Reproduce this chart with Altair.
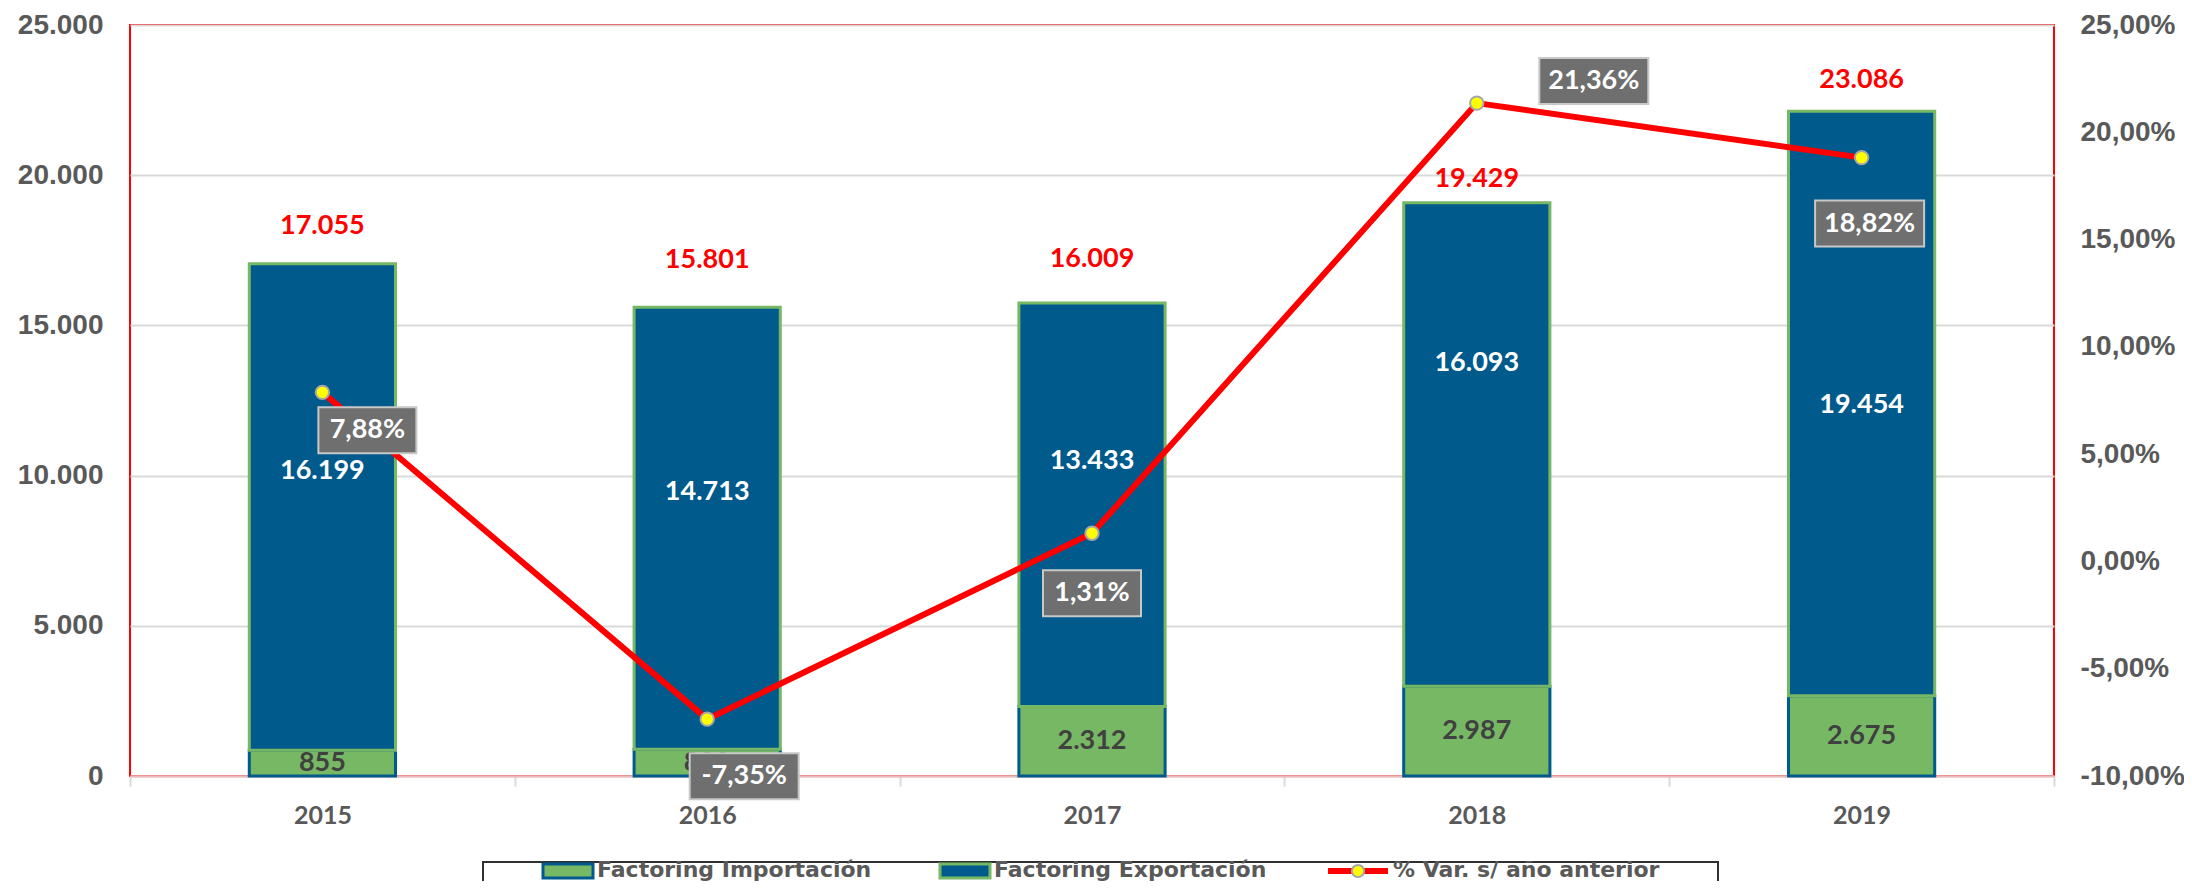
import altair as alt
import pandas as pd

# ---------------- data ----------------
years = ["2015", "2016", "2017", "2018", "2019"]
importacion = [855, 888, 2312, 2987, 2675]
exportacion = [16199, 14713, 13433, 16093, 19454]
totales = [17055, 15801, 16009, 19429, 23086]
variacion = [7.88, -7.35, 1.31, 21.36, 18.82]

legend_labels = ["Factoring Importación", "Factoring Exportación", "% Var. s/ año anterior"]

left_ticks = [0, 5000, 10000, 15000, 20000, 25000]
right_ticks = [-10, -5, 0, 5, 10, 15, 20, 25]

# ---------------- style ----------------
BLUE = "#005A8C"
GREEN = "#77B865"
RED = "#FF0000"
AXIS_TXT = "#595959"
W, H = 1924, 751

exp_label_dy = [-36, -36, -44, -82, 2]
tot_label_dy = [-38, -47, -44, -24, -31]
box_dx = [45, 37, 0, 117, 8]
box_dy = [38, 57, 60, -22, 66]
BOX_H = 46

LABEL_FONT = "Lato"


def miles(v):
    return f"{v:,}".replace(",", ".")


def pct(v):
    return f"{v:.2f}".replace(".", ",") + "%"


def box_path(dx, dy, w, h):
    return f"M{dx - w / 2:.1f},{dy - h / 2:.1f}h{w:.1f}v{h:.1f}h{-w:.1f}Z"


df = pd.DataFrame({
    "year": years,
    "imp": importacion,
    "exp": exportacion,
    "tot": totales,
    "var": variacion,
})
df["imp_top"] = df["imp"]
df["exp_top"] = df["imp"] + df["exp"]
df["imp_mid"] = df["imp"] / 2
df["exp_mid"] = df["imp"] + df["exp"] / 2
df["imp_txt"] = [miles(v) for v in importacion]
df["exp_txt"] = [miles(v) for v in exportacion]
df["tot_txt"] = [miles(v) for v in totales]
df["var_txt"] = [pct(v) for v in variacion]
df["exp_dy"] = exp_label_dy
df["tot_dy"] = tot_label_dy
df["box_dx"] = box_dx
df["box_dy"] = box_dy
df["box_path"] = [
    box_path(dx, dy, 11 * len(t) + 43, BOX_H)
    for dx, dy, t in zip(box_dx, box_dy, df["var_txt"])
]

X = alt.X(
    "year:N",
    sort=years,
    scale=alt.Scale(paddingInner=0, paddingOuter=0),
    axis=alt.Axis(
        title=None, labelAngle=0, tickBand="extent", ticks=True, tickSize=10,
        tickColor="#D9D9D9", tickWidth=2, domainColor="#EDB9B9", domainWidth=2,
        labelFont=LABEL_FONT, labelFontSize=25, labelFontWeight="bold",
        labelColor=AXIS_TXT, labelPadding=17, grid=False,
    ),
)

yL_scale = alt.Scale(domain=[0, 25000], nice=False, zero=True)
yR_scale = alt.Scale(domain=[-10, 25], nice=False, zero=False)

left_axis = alt.Axis(
    title=None, values=left_ticks, grid=True, gridColor="#D9D9D9", gridWidth=2,
    ticks=False, tickSize=0, domain=False, labelPadding=27,
    labelExpr="replace(format(datum.value, ','), ',', '.')",
    labelFont="Liberation Sans", labelFontSize=28, labelFontWeight="bold",
    labelColor=AXIS_TXT,
)
right_axis = alt.Axis(
    title=None, orient="right", values=right_ticks, grid=False, ticks=False,
    tickSize=0, domain=False, labelPadding=26,
    labelExpr="(datum.value < 0 ? '-' : '') + replace(format(abs(datum.value), '.2f'), '.', ',') + '%'",
    labelFont="Liberation Sans", labelFontSize=28, labelFontWeight="bold",
    labelColor=AXIS_TXT,
)

base = alt.Chart(df)

imp_bar = base.mark_bar(width={"band": 0.38}, fill=GREEN, stroke=BLUE, strokeWidth=3).encode(
    x=X, y=alt.Y("imp_top:Q", scale=yL_scale, axis=left_axis)
)
exp_bar = base.mark_bar(width={"band": 0.38}, fill=BLUE, stroke=GREEN, strokeWidth=3).encode(
    x=X, y=alt.Y("imp_top:Q", scale=yL_scale), y2="exp_top:Q"
)
imp_txt = base.mark_text(font=LABEL_FONT, fontSize=27, fontWeight="bold", color="#404040",
                         baseline="middle").encode(
    x=X, y=alt.Y("imp_mid:Q", scale=yL_scale), text="imp_txt:N"
)
exp_txt = base.mark_text(font=LABEL_FONT, fontSize=27, fontWeight="bold", color="#FFFFFF",
                         baseline="middle", dy=alt.expr("datum.exp_dy")).encode(
    x=X, y=alt.Y("exp_mid:Q", scale=yL_scale), text="exp_txt:N"
)
tot_txt = base.mark_text(font=LABEL_FONT, fontSize=27, fontWeight="bold", color=RED,
                         baseline="middle", dy=alt.expr("datum.tot_dy")).encode(
    x=X, y=alt.Y("exp_top:Q", scale=yL_scale), text="tot_txt:N"
)
left = alt.layer(imp_bar, exp_bar, imp_txt, exp_txt, tot_txt)

line = base.mark_line(color=RED, strokeWidth=6).encode(
    x=X, y=alt.Y("var:Q", scale=yR_scale, axis=right_axis)
)
pts = base.mark_circle(size=180, color="#FFFF00", stroke="#A6A6A6", strokeWidth=2, opacity=1).encode(
    x=X, y=alt.Y("var:Q", scale=yR_scale)
)
boxes = base.mark_point(size=4, filled=True, fill="#6F6F6F",
                        stroke="#C8C8C8", strokeWidth=2, opacity=1).encode(
    x=X, y=alt.Y("var:Q", scale=yR_scale),
    shape=alt.Shape("box_path:N", scale=None, legend=None),
)
box_txt = base.mark_text(font=LABEL_FONT, fontSize=27, fontWeight="bold", color="#FFFFFF",
                         baseline="middle", dx=alt.expr("datum.box_dx"),
                         dy=alt.expr("datum.box_dy")).encode(
    x=X, y=alt.Y("var:Q", scale=yR_scale),
    text="var_txt:N",
)
right = alt.layer(line, pts, boxes, box_txt)

# ---------------- legend (drawn below the plot) ----------------
one = pd.DataFrame({"k": [0]})
lg_box = alt.Chart(one).mark_rect(fill="#FFFFFF", stroke="#303030", strokeWidth=2).encode(
    x=alt.value(353), x2=alt.value(1588), y=alt.value(837), y2=alt.value(900)
)
lg_sym1 = alt.Chart(one).mark_rect(fill=GREEN, stroke=BLUE, strokeWidth=3).encode(
    x=alt.value(413), x2=alt.value(463), y=alt.value(839), y2=alt.value(853)
)
lg_sym2 = alt.Chart(one).mark_rect(fill=BLUE, stroke=GREEN, strokeWidth=3).encode(
    x=alt.value(810), x2=alt.value(860), y=alt.value(839), y2=alt.value(853)
)
lg_line = alt.Chart(one).mark_rule(color=RED, strokeWidth=6).encode(
    x=alt.value(1198), x2=alt.value(1258), y=alt.value(846)
)
lg_pt = alt.Chart(one).mark_circle(size=150, color="#FFFF00", stroke="#A6A6A6",
                                    strokeWidth=2, opacity=1).encode(
    x=alt.value(1228), y=alt.value(846)
)
lg_texts = []
for lab, lx in zip(legend_labels, [467, 864, 1263]):
    lg_texts.append(
        alt.Chart(pd.DataFrame({"label": [lab]})).mark_text(
            font="DejaVu Sans", fontSize=22, fontWeight="bold", color=AXIS_TXT,
            align="left", baseline="middle"
        ).encode(x=alt.value(lx), y=alt.value(845), text="label:N")
    )

chart = alt.layer(
    left, right, lg_box, lg_sym1, lg_sym2, lg_line, lg_pt, *lg_texts
).resolve_scale(
    y="independent"
).properties(
    width=W, height=H,
    autosize=alt.AutoSizeParams(type="none"),
    padding={"left": 122, "top": 17, "right": 130, "bottom": 105},
).configure_view(
    stroke=RED, strokeWidth=2
)

chart.save("out.html", embed_options={"renderer": "svg", "actions": False})
